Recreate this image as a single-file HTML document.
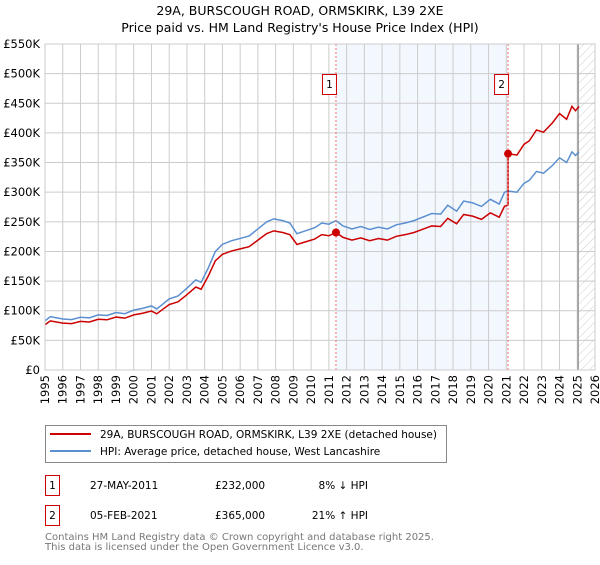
<!DOCTYPE html>
<html><head><meta charset="utf-8"><style>
body{margin:0;background:#fff;font-family:"Liberation Sans","DejaVu Sans",sans-serif;}
svg text{font-family:"DejaVu Sans","Liberation Sans",sans-serif;}
</style></head><body>
<svg id="c" width="600" height="560" xmlns="http://www.w3.org/2000/svg">
<text x="300" y="15" text-anchor="middle" font-size="12.5">29A, BURSCOUGH ROAD, ORMSKIRK, L39 2XE</text>
<text x="300" y="32" text-anchor="middle" font-size="12.5">Price paid vs. HM Land Registry's House Price Index (HPI)</text>
<defs><pattern id="hatch" width="6" height="6" patternUnits="userSpaceOnUse" patternTransform="rotate(45)"><line x1="0" y1="0" x2="0" y2="6" stroke="#ccc" stroke-width="1"/></pattern></defs>
<g id="grid"></g>
<g id="marks"></g>
<rect x="45" y="44" width="550" height="326" fill="none" stroke="#ccc"/>
<g id="axes"></g>
<rect x="45.5" y="425.5" width="401" height="37" fill="#fff" stroke="#888"/>
<line x1="50" y1="434" x2="91" y2="434" stroke="#cc0000" stroke-width="2"/>
<text x="100" y="438" font-size="10.5">29A, BURSCOUGH ROAD, ORMSKIRK, L39 2XE (detached house)</text>
<line x1="50" y1="451" x2="91" y2="451" stroke="#5b8fd0" stroke-width="2"/>
<text x="100" y="455" font-size="10.5">HPI: Average price, detached house, West Lancashire</text>
<g font-size="10.5">
<rect x="45.5" y="475.5" width="14" height="20" fill="#fff" stroke="#c00"/>
<text x="52.5" y="489" text-anchor="middle">1</text>
<text x="90" y="489">27-MAY-2011</text><text x="215" y="489">£232,000</text><text x="368" y="489" text-anchor="end">8% ↓ HPI</text>
<rect x="45.5" y="505.5" width="14" height="20" fill="#fff" stroke="#c00"/>
<text x="52.5" y="519" text-anchor="middle">2</text>
<text x="90" y="519">05-FEB-2021</text><text x="215" y="519">£365,000</text><text x="368" y="519" text-anchor="end">21% ↑ HPI</text>
</g>
<text x="45" y="540" font-size="10" fill="#777">Contains HM Land Registry data © Crown copyright and database right 2025.</text>
<text x="45" y="550" font-size="10" fill="#777">This data is licensed under the Open Government Licence v3.0.</text>
</svg>
<script>
const hpiYears=[1995,1995.3,1996,1996.5,1997,1997.5,1998,1998.5,1999,1999.5,2000,2000.5,2001,2001.3,2002,2002.5,2003,2003.5,2003.8,2004.2,2004.6,2005,2005.5,2006,2006.5,2007,2007.5,2007.9,2008.4,2008.8,2009.2,2009.7,2010.2,2010.6,2011,2011.4,2011.8,2012.3,2012.8,2013.3,2013.8,2014.3,2014.8,2015.3,2015.8,2016.3,2016.8,2017.3,2017.7,2018.2,2018.6,2019.1,2019.6,2020.1,2020.6,2020.9,2021.1,2021.6,2022,2022.3,2022.7,2023.1,2023.6,2024,2024.4,2024.7,2024.9,2025.1];
const hpiValues=[83,90,86,85,89,88,93,92,97,95,101,104,108,103,120,125,138,152,148,172,200,212,218,222,226,238,250,255,252,248,230,235,240,248,246,252,243,238,242,237,241,238,245,248,252,258,264,263,278,268,285,282,276,288,280,300,302,300,315,320,335,332,345,358,350,368,362,368];
const saleYears=[2011.4,2021.1];
const saleValues=[232000,365000];
const yTicks=[0,50,100,150,200,250,300,350,400,450,500,550];
const yTickLabels=["£0","£50K","£100K","£150K","£200K","£250K","£300K","£350K","£400K","£450K","£500K","£550K"];
const xTicks=[1995,1996,1997,1998,1999,2000,2001,2002,2003,2004,2005,2006,2007,2008,2009,2010,2011,2012,2013,2014,2015,2016,2017,2018,2019,2020,2021,2022,2023,2024,2025,2026];
const X0=45,X1=595,Y0=370,Y1=44;
const xs=y=>X0+(y-1995)/(2026-1995)*(X1-X0);
const ys=v=>Y0-v/550*(Y0-Y1);
const NS="http://www.w3.org/2000/svg";
function mk(t,a,p){const e=document.createElementNS(NS,t);for(const k in a)e.setAttribute(k,a[k]);p.appendChild(e);return e;}
const grid=document.getElementById('grid'),marks=document.getElementById('marks'),axes=document.getElementById('axes');
const shade=mk('rect',{x:xs(saleYears[0]),y:Y1,width:xs(saleYears[1])-xs(saleYears[0]),height:Y0-Y1,fill:'#eef3fd',opacity:0.7},grid);


const hatch=mk('rect',{x:xs(2025.05),y:Y1,width:X1-xs(2025.05),height:Y0-Y1,fill:'url(#hatch)'},grid);


yTicks.forEach((v,i)=>{
 const l=mk('line',{x1:X0,x2:X1,y1:ys(v),y2:ys(v),stroke:'#ccc'},grid);
 
 
 const t=mk('text',{x:40,y:ys(v)+4,'text-anchor':'end','font-size':'11.5'},axes);
 t.textContent=yTickLabels[i];
 
 
});
xTicks.forEach(y=>{
 const l=mk('line',{x1:xs(y),x2:xs(y),y1:Y1,y2:Y0,stroke:'#ccc'},grid);
 
 
 const t=mk('text',{x:0,y:0,'font-size':'11.5','text-anchor':'end',transform:`translate(${xs(y)+4},${Y0+5}) rotate(-90)`},axes);
 t.textContent=y;
 
 
});
const vl=mk('line',{x1:xs(2025.05),x2:xs(2025.05),y1:Y1,y2:Y0,stroke:'#999','stroke-width':1.5},grid);


function hpiAt(y){for(let i=1;i<hpiYears.length;i++){if(y<=hpiYears[i]){const f=(y-hpiYears[i-1])/(hpiYears[i]-hpiYears[i-1]);return hpiValues[i-1]+f*(hpiValues[i]-hpiValues[i-1]);}}return hpiValues[hpiValues.length-1];}
const f1=saleValues[0]/1000/hpiAt(saleYears[0]),f2=saleValues[1]/1000/hpiAt(saleYears[1]);
const hp=mk('polyline',{points:hpiYears.map((y,i)=>xs(y)+','+ys(hpiValues[i])).join(' '),fill:'none',stroke:'#5b8fd0','stroke-width':1.5},marks);


const pts=[];
hpiYears.forEach((y,i)=>{if(y<saleYears[1])pts.push(xs(y)+','+ys(hpiValues[i]*f1));});
pts.push(xs(saleYears[1])+','+ys(hpiAt(saleYears[1])*f1));
hpiYears.forEach((y,i)=>{if(y>=saleYears[1])pts.push(xs(y)+','+ys(hpiValues[i]*f2));});
const pp=mk('polyline',{points:pts.join(' '),fill:'none',stroke:'#cc0000','stroke-width':1.5},marks);


saleYears.forEach((y,i)=>{
 const d=mk('line',{x1:xs(y),x2:xs(y),y1:Y1,y2:Y0,stroke:'#f07070','stroke-dasharray':'2,2'},marks);
 
 
 const c=mk('circle',{cx:xs(y),cy:ys(saleValues[i]/1000),r:4,fill:'#cc0000'},marks);
 
 
 const b=mk('rect',{x:xs(y)-13.5,y:74.5,width:14,height:20,fill:'#fff',stroke:'#c00'},marks);
 
 
 const t=mk('text',{x:xs(y)-6.5,y:88,'text-anchor':'middle','font-size':'10.5'},marks);
 t.textContent=String(i+1);
 
 
});
</script>
</body></html>
